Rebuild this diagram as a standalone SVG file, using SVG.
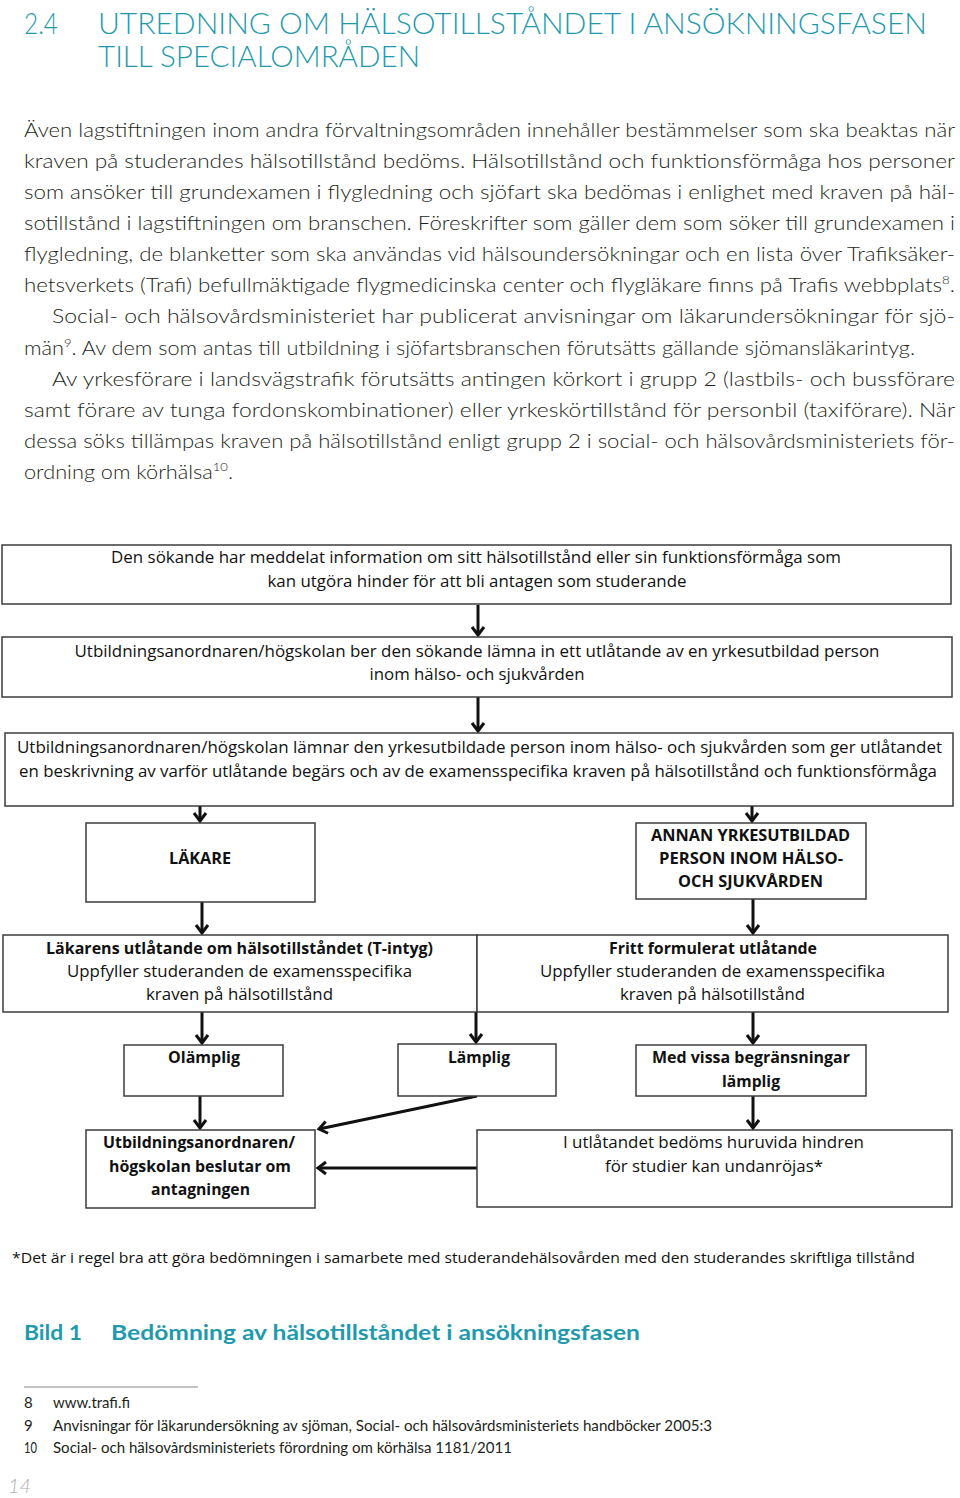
<svg xmlns="http://www.w3.org/2000/svg" width="960" height="1498" viewBox="0 0 960 1498">
<style>
.h{font-family:Lato,"Liberation Sans",sans-serif;font-weight:300;fill:#1f9aad;font-size:29px}
.b{font-family:Lato,"Liberation Sans",sans-serif;font-weight:300;fill:#231f20;font-size:20px}
.sup{font-size:12px}
.box{fill:#fff;stroke:#3c3c3c;stroke-width:1.5}
.t{font-family:"Open Sans","Liberation Sans",sans-serif;font-size:15.5px;fill:#111;text-anchor:middle}
.tb{font-family:"Open Sans","Liberation Sans",sans-serif;font-size:15.5px;font-weight:bold;fill:#111;text-anchor:middle}
.c{fill:none;stroke:#111;stroke-width:3}
.fn{font-family:"Open Sans","Liberation Sans",sans-serif;font-size:15px;fill:#111}
.cap{font-family:Lato,"Liberation Sans",sans-serif;font-weight:bold;font-size:21px;fill:#1f9aad}
.f{font-family:Lato,"Liberation Sans",sans-serif;font-size:15px;fill:#231f20}
</style>
<defs>
<marker id="arr" markerUnits="userSpaceOnUse" markerWidth="20" markerHeight="20" viewBox="-12 -10 20 20" refX="0" refY="0" orient="auto">
<path d="M-8,-6 L0,0 L-8,6" fill="none" stroke="#111" stroke-width="3"/>
</marker>
</defs>
<rect width="960" height="1498" fill="#fff"/>

<g id="heading">
<text class="h" x="24" y="34" textLength="34" lengthAdjust="spacingAndGlyphs">2.4</text>
<text class="h" x="98" y="34" textLength="829" lengthAdjust="spacingAndGlyphs">UTREDNING OM HÄLSOTILLSTÅNDET I ANSÖKNINGSFASEN</text>
<text class="h" x="98" y="67" textLength="322" lengthAdjust="spacingAndGlyphs">TILL SPECIALOMRÅDEN</text>
</g>

<g id="body">
<text class="b" x="24" y="137" textLength="931" lengthAdjust="spacingAndGlyphs">Även lagstiftningen inom andra förvaltningsområden innehåller bestämmelser som ska beaktas när</text>
<text class="b" x="24" y="168" textLength="931" lengthAdjust="spacingAndGlyphs">kraven på studerandes hälsotillstånd bedöms. Hälsotillstånd och funktionsförmåga hos personer</text>
<text class="b" x="24" y="199" textLength="931" lengthAdjust="spacingAndGlyphs">som ansöker till grundexamen i flygledning och sjöfart ska bedömas i enlighet med kraven på häl-</text>
<text class="b" x="24" y="230" textLength="931" lengthAdjust="spacingAndGlyphs">sotillstånd i lagstiftningen om branschen. Föreskrifter som gäller dem som söker till grundexamen i</text>
<text class="b" x="24" y="261" textLength="931" lengthAdjust="spacingAndGlyphs">flygledning, de blanketter som ska användas vid hälsoundersökningar och en lista över Trafiksäker-</text>
<text class="b" x="24" y="292" textLength="931" lengthAdjust="spacingAndGlyphs">hetsverkets (Trafi) befullmäktigade flygmedicinska center och flygläkare finns på Trafis webbplats<tspan class="sup" dy="-8">8</tspan><tspan dy="8">.</tspan></text>
<text class="b" x="52" y="323" textLength="903" lengthAdjust="spacingAndGlyphs">Social- och hälsovårdsministeriet har publicerat anvisningar om läkarundersökningar för sjö-</text>
<text class="b" x="24" y="355" textLength="891" lengthAdjust="spacingAndGlyphs">män<tspan class="sup" dy="-8">9</tspan><tspan dy="8">. Av dem som antas till utbildning i sjöfartsbranschen förutsätts gällande sjömansläkarintyg.</tspan></text>
<text class="b" x="52" y="386" textLength="903" lengthAdjust="spacingAndGlyphs">Av yrkesförare i landsvägstrafik förutsätts antingen körkort i grupp 2 (lastbils- och bussförare</text>
<text class="b" x="24" y="417" textLength="931" lengthAdjust="spacingAndGlyphs">samt förare av tunga fordonskombinationer) eller yrkeskörtillstånd för personbil (taxiförare). När</text>
<text class="b" x="24" y="448" textLength="931" lengthAdjust="spacingAndGlyphs">dessa söks tillämpas kraven på hälsotillstånd enligt grupp 2 i social- och hälsovårdsministeriets för-</text>
<text class="b" x="24" y="479" textLength="209" lengthAdjust="spacingAndGlyphs">ordning om körhälsa<tspan class="sup" dy="-8">10</tspan><tspan dy="8">.</tspan></text>
</g>

<g id="connectors">
<path class="c" marker-end="url(#arr)" d="M478,605 L478,635"/>
<path class="c" marker-end="url(#arr)" d="M478,697 L478,731"/>
<path class="c" marker-end="url(#arr)" d="M200,806 L200,821"/>
<path class="c" marker-end="url(#arr)" d="M752,806 L752,821"/>
<path class="c" marker-end="url(#arr)" d="M202,902 L202,933"/>
<path class="c" marker-end="url(#arr)" d="M753,899 L753,933"/>
<path class="c" marker-end="url(#arr)" d="M202,1012 L202,1043"/>
<path class="c" marker-end="url(#arr)" d="M476,1012 L476,1042"/>
<path class="c" marker-end="url(#arr)" d="M753,1012 L753,1043"/>
<path class="c" marker-end="url(#arr)" d="M200,1096 L200,1128"/>
<path class="c" marker-end="url(#arr)" d="M477,1096 L319,1129"/>
<path class="c" marker-end="url(#arr)" d="M753,1096 L753,1128"/>
<path class="c" marker-end="url(#arr)" d="M477,1168 L318,1168"/>
</g>

<g id="n1">
<rect class="box" x="2" y="545" width="949" height="59"/>
<text class="t" x="476" y="563" textLength="730" lengthAdjust="spacingAndGlyphs">Den sökande har meddelat information om sitt hälsotillstånd eller sin funktionsförmåga som</text>
<text class="t" x="477" y="587" textLength="419" lengthAdjust="spacingAndGlyphs">kan utgöra hinder för att bli antagen som studerande</text>
</g>
<g id="n2">
<rect class="box" x="2" y="637" width="950" height="60"/>
<text class="t" x="477" y="657" textLength="805" lengthAdjust="spacingAndGlyphs">Utbildningsanordnaren/högskolan ber den sökande lämna in ett utlåtande av en yrkesutbildad person</text>
<text class="t" x="477" y="680" textLength="215" lengthAdjust="spacingAndGlyphs">inom hälso- och sjukvården</text>
</g>
<g id="n3">
<rect class="box" x="5" y="733" width="948" height="73"/>
<text class="t" x="479.5" y="753" textLength="925" lengthAdjust="spacingAndGlyphs">Utbildningsanordnaren/högskolan lämnar den yrkesutbildade person inom hälso- och sjukvården som ger utlåtandet</text>
<text class="t" x="478" y="777" textLength="918" lengthAdjust="spacingAndGlyphs">en beskrivning av varför utlåtande begärs och av de examensspecifika kraven på hälsotillstånd och funktionsförmåga</text>
</g>
<g id="n-lakare">
<rect class="box" x="86" y="823" width="229" height="79"/>
<text class="tb" x="200" y="864" textLength="62" lengthAdjust="spacingAndGlyphs">LÄKARE</text>
</g>
<g id="n-annan">
<rect class="box" x="636" y="823" width="230" height="76"/>
<text class="tb" x="750.5" y="841" textLength="199" lengthAdjust="spacingAndGlyphs">ANNAN YRKESUTBILDAD</text>
<text class="tb" x="751" y="864" textLength="184" lengthAdjust="spacingAndGlyphs">PERSON INOM HÄLSO-</text>
<text class="tb" x="750.5" y="887" textLength="145" lengthAdjust="spacingAndGlyphs">OCH SJUKVÅRDEN</text>
</g>
<g id="n-lakarens">
<rect class="box" x="3" y="935" width="474" height="77"/>
<text class="tb" x="239.5" y="954" textLength="387" lengthAdjust="spacingAndGlyphs">Läkarens utlåtande om hälsotillståndet (T-intyg)</text>
<text class="t" x="239.5" y="977" textLength="345" lengthAdjust="spacingAndGlyphs">Uppfyller studeranden de examensspecifika</text>
<text class="t" x="239.5" y="1000" textLength="187" lengthAdjust="spacingAndGlyphs">kraven på hälsotillstånd</text>
</g>
<g id="n-fritt">
<rect class="box" x="477" y="935" width="471" height="77"/>
<text class="tb" x="713" y="954" textLength="208" lengthAdjust="spacingAndGlyphs">Fritt formulerat utlåtande</text>
<text class="t" x="712.5" y="977" textLength="345" lengthAdjust="spacingAndGlyphs">Uppfyller studeranden de examensspecifika</text>
<text class="t" x="712.5" y="1000" textLength="185" lengthAdjust="spacingAndGlyphs">kraven på hälsotillstånd</text>
</g>
<g id="n-olamplig">
<rect class="box" x="124" y="1045" width="159" height="51"/>
<text class="tb" x="204" y="1063" textLength="72" lengthAdjust="spacingAndGlyphs">Olämplig</text>
</g>
<g id="n-lamplig">
<rect class="box" x="398" y="1044" width="158" height="52"/>
<text class="tb" x="479" y="1063" textLength="62" lengthAdjust="spacingAndGlyphs">Lämplig</text>
</g>
<g id="n-med">
<rect class="box" x="636" y="1045" width="230" height="51"/>
<text class="tb" x="751" y="1063" textLength="198" lengthAdjust="spacingAndGlyphs">Med vissa begränsningar</text>
<text class="tb" x="751" y="1087" textLength="58" lengthAdjust="spacingAndGlyphs">lämplig</text>
</g>
<g id="n-utb">
<rect class="box" x="86" y="1130" width="229" height="78"/>
<text class="tb" x="199" y="1148" textLength="192" lengthAdjust="spacingAndGlyphs">Utbildningsanordnaren/</text>
<text class="tb" x="200" y="1172" textLength="182" lengthAdjust="spacingAndGlyphs">högskolan beslutar om</text>
<text class="tb" x="200.5" y="1195" textLength="99" lengthAdjust="spacingAndGlyphs">antagningen</text>
</g>
<g id="n-iutl">
<rect class="box" x="477" y="1130" width="475" height="77"/>
<text class="t" x="713.5" y="1148" textLength="301" lengthAdjust="spacingAndGlyphs">I utlåtandet bedöms huruvida hindren</text>
<text class="t" x="714" y="1172" textLength="218" lengthAdjust="spacingAndGlyphs">för studier kan undanröjas*</text>
</g>

<g id="notes">
<text class="fn" x="12" y="1263" textLength="903" lengthAdjust="spacingAndGlyphs">*Det är i regel bra att göra bedömningen i samarbete med studerandehälsovården med den studerandes skriftliga tillstånd</text>
<text class="cap" x="24" y="1340" textLength="58" lengthAdjust="spacingAndGlyphs">Bild 1</text>
<text class="cap" x="111" y="1340" textLength="529" lengthAdjust="spacingAndGlyphs">Bedömning av hälsotillståndet i ansökningsfasen</text>
<line x1="24" y1="1387" x2="198" y2="1387" stroke="#888" stroke-width="1"/>
<text class="f" x="24" y="1408">8</text>
<text class="f" x="53" y="1408" textLength="77" lengthAdjust="spacingAndGlyphs">www.trafi.fi</text>
<text class="f" x="24" y="1431">9</text>
<text class="f" x="53" y="1431" textLength="659" lengthAdjust="spacingAndGlyphs">Anvisningar för läkarundersökning av sjöman, Social- och hälsovårdsministeriets handböcker 2005:3</text>
<text class="f" x="24" y="1453" textLength="13" lengthAdjust="spacingAndGlyphs">10</text>
<text class="f" x="53" y="1453" textLength="459" lengthAdjust="spacingAndGlyphs">Social- och hälsovårdsministeriets förordning om körhälsa 1181/2011</text>
<text x="8" y="1493" font-family="Lato,'Liberation Sans',sans-serif" font-weight="300" font-style="italic" font-size="20" fill="#b0b0b0">14</text>
</g>
</svg>
